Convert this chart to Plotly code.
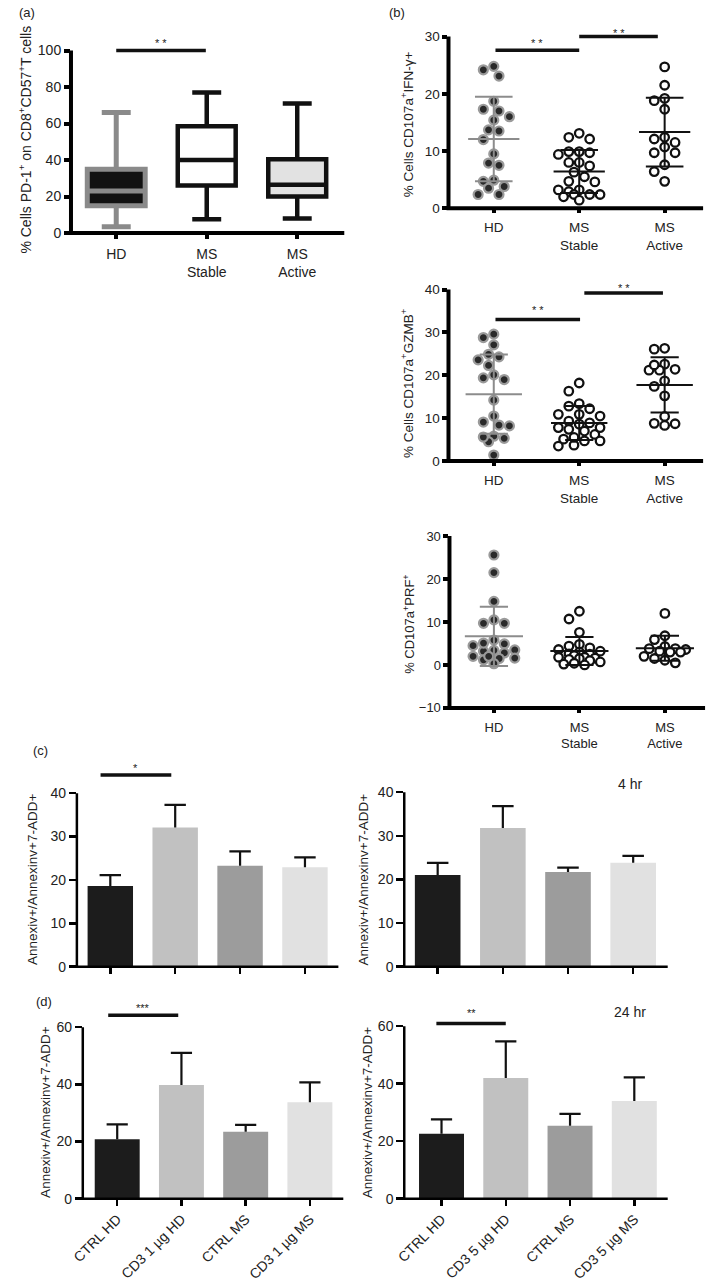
import numpy as np
import plotly.graph_objects as go

# ---------------- data ----------------
groups3 = ["HD", "MS<br>Stable", "MS<br>Active"]
groups4_1ug = ["CTRL HD", "CD3 1 µg HD", "CTRL MS", "CD3 1 µg MS"]
groups4_5ug = ["CTRL HD", "CD3 5 µg HD", "CTRL MS", "CD3 5 µg MS"]

# (a) PD-1 on CD8+CD57+ T cells: box statistics (min, Q1, median, Q3, max)
pd1_min = [3.5, 7.5, 8.0]
pd1_q1 = [15.0, 26.0, 20.0]
pd1_median = [23.0, 40.0, 26.5]
pd1_q3 = [35.0, 58.5, 40.5]
pd1_max = [66.0, 77.0, 71.0]

# (b) CD107a+IFN-g+
ifng_hd = [24.2, 24.8, 23.1, 18.7, 17.3, 17.0, 16.0, 15.4, 13.7, 13.5,
           12.0, 9.5, 7.5, 7.9, 4.9, 4.7, 3.5, 3.8, 2.4, 2.4]
ifng_stable = [13.1, 12.1, 12.4, 9.9, 9.7, 9.4, 9.9, 8.0, 7.4, 8.0, 6.3,
               5.5, 4.7, 4.6, 3.2, 2.9, 3.2, 2.4, 2.4, 2.4, 2.0, 1.4]
ifng_active = [24.7, 21.5, 19.2, 18.8, 17.3, 12.1, 12.4, 10.7, 11.5, 9.7,
               9.7, 7.6, 6.4, 4.7]

# (b) CD107a+GZMB+
gzmb_hd = [29.6, 28.8, 27.1, 24.9, 23.6, 24.3, 22.3, 20.1, 19.0, 19.4,
           14.2, 10.5, 9.1, 8.2, 8.4, 5.8, 5.3, 4.5, 5.6, 1.4]
gzmb_stable = [18.2, 16.3, 12.8, 12.2, 13.4, 10.9, 10.9, 10.5, 8.9, 9.3, 8.6,
               7.8, 7.0, 6.2, 7.4, 7.8, 5.1, 4.7, 3.5, 3.7, 4.7, 5.5]
gzmb_active = [26.1, 26.3, 22.6, 21.4, 21.2, 21.2, 22.4, 18.7, 17.4, 15.2,
               10.4, 8.8, 8.3, 8.7]

# (b) CD107a+PRF+
prf_hd = [25.6, 21.5, 14.8, 9.7, 9.7, 10.5, 5.8, 4.9, 3.5, 3.2,
          2.8, 3.4, 4.5, 5.1, 2.0, 1.5, 0.3, 1.2, 1.6, 2.0]
prf_stable = [12.5, 10.7, 7.6, 4.8, 4.4, 4.0, 3.6, 3.2, 3.0, 2.6, 2.5,
              2.2, 1.8, 1.8, 1.6, 1.5, 1.3, 1.0, 0.7, 0.4, 0.2, 0.0]
prf_active = [12.0, 6.8, 5.9, 4.3, 3.8, 3.8, 3.6, 3.2, 3.0, 3.0,
              2.0, 1.5, 1.1, 0.5]

# (c) 4 hr apoptosis (mean, upper error)
c1_mean = [18.6, 32.1, 23.3, 22.9]
c1_err = [2.5, 5.2, 3.3, 2.3]
c2_mean = [21.0, 31.8, 21.7, 23.8]
c2_err = [2.8, 5.0, 1.0, 1.6]

# (d) 24 hr apoptosis
d1_mean = [20.8, 39.8, 23.4, 33.7]
d1_err = [5.2, 11.2, 2.4, 7.0]
d2_mean = [22.6, 42.0, 25.4, 34.0]
d2_err = [5.0, 12.7, 4.1, 8.2]

# significance brackets: (from, to, bar height, star height, label)
sig_a = [(0.0, 0.99, 100.0, 105.4, "* *")]
sig_b1 = [(0.02, 1.0, 27.6, 29.3, "* *"), (1.0, 1.92, 30.0, 30.9, "* *")]
sig_b2 = [(0.02, 1.01, 33.0, 35.8, "* *"), (1.06, 1.98, 39.2, 40.9, "* *")]
sig_c1 = [(-0.15, 0.94, 44.2, 46.2, "*")]
sig_d1 = [(-0.14, 0.95, 64.2, 67.3, "***")]
sig_d2 = [(-0.08, 1.0, 60.9, 65.2, "**")]

# ---------------- layout / style ----------------
W, H = 709, 1288
FONT = "Liberation Sans, Arial, Helvetica, sans-serif"
TXT = "#222222"
BAR_COLORS = ["#1c1c1c", "#c1c1c1", "#9c9c9c", "#e1e1e1"]

P = {
    1: dict(xl=60, xr=338, xrng=(-0.5, 2.52), ybpx=232, ppu=1.84, yrng=(0, 110), ytop=100,
            yt=[0, 20, 40, 60, 80, 100], lw=4, tw=4, tl=5, fs=14),
    2: dict(xl=444, xr=703, xrng=(-0.53, 2.45), ybpx=207, ppu=5.77, yrng=(0, 32.5), ytop=30,
            yt=[0, 10, 20, 30], lw=4, tw=4, tl=4, fs=13.5),
    3: dict(xl=444, xr=703, xrng=(-0.53, 2.45), ybpx=462, ppu=4.325, yrng=(0, 42.5), ytop=40,
            yt=[0, 10, 20, 30, 40], lw=4, tw=4, tl=4, fs=13.5),
    4: dict(xl=445, xr=705, xrng=(-0.52, 2.47), ybpx=711, ppu=4.333, yrng=(-10, 31), ytop=30,
            yt=[-10, 0, 10, 20, 30], lw=4, tw=4, tl=4, fs=13),
    5: dict(xl=66, xr=332, xrng=(-0.515, 3.515), ybpx=972, ppu=4.375, yrng=(0, 47.5), ytop=40,
            yt=[0, 10, 20, 30, 40], lw=2.5, tw=2.5, tl=6, fs=14),
    6: dict(xl=399, xr=667, xrng=(-0.513, 3.53), ybpx=972, ppu=4.4, yrng=(0, 47.5), ytop=40,
            yt=[0, 10, 20, 30, 40], lw=2.5, tw=2.5, tl=6, fs=14),
    7: dict(xl=72, xr=337, xrng=(-0.536, 3.52), ybpx=1206, ppu=2.883, yrng=(0, 69), ytop=60,
            yt=[0, 20, 40, 60], lw=2.5, tw=2.5, tl=6, fs=14),
    8: dict(xl=399, xr=667, xrng=(-0.58, 3.52), ybpx=1206, ppu=2.9, yrng=(0, 69), ytop=60,
            yt=[0, 20, 40, 60], lw=2.5, tw=2.5, tl=6, fs=14),
}


def ax_names(n):
    s = "" if n == 1 else str(n)
    return "x" + s, "y" + s


fig = go.Figure()
layout = {}
shapes = []
annotations = []

for n, p in P.items():
    top_px = p["ybpx"] - (p["yrng"][1] - p["yrng"][0]) * p["ppu"]
    xa, ya = ax_names(n)
    xkey = "xaxis" + ("" if n == 1 else str(n))
    ykey = "yaxis" + ("" if n == 1 else str(n))
    layout[xkey] = dict(domain=[p["xl"] / W, p["xr"] / W], anchor=ya, range=list(p["xrng"]),
                        showgrid=False, zeroline=False, showline=False, ticks="outside",
                        ticklen=p["tl"], tickwidth=p["tw"], tickcolor="black",
                        tickfont=dict(family=FONT, size=p["fs"], color=TXT), fixedrange=True)
    layout[ykey] = dict(domain=[1 - p["ybpx"] / H, 1 - top_px / H], anchor=xa, range=list(p["yrng"]),
                        showgrid=False, zeroline=False, showline=False, ticks="outside",
                        tickvals=p["yt"], ticklen=p["tl"] + 1, tickwidth=p["tw"], tickcolor="black",
                        tickfont=dict(family=FONT, size=p["fs"], color=TXT), fixedrange=True)
    width_px = p["xr"] - p["xl"]
    shapes.append(dict(type="line", xref=xa + " domain", yref=ya + " domain",
                       x0=-p["lw"] / 2 / width_px, x1=1, y0=0, y1=0,
                       line=dict(color="black", width=p["lw"])))
    shapes.append(dict(type="line", xref=xa + " domain", yref=ya, x0=0, x1=0,
                       y0=p["yrng"][0], y1=p["ytop"], line=dict(color="black", width=p["lw"])))

for n in (1, 2, 3, 4):
    key = "xaxis" + ("" if n == 1 else str(n))
    layout[key].update(tickvals=[0, 1, 2], ticktext=groups3, ticklabelstandoff=3)
for n in (5, 6):
    key = "xaxis" + str(n)
    layout[key].update(tickvals=[0, 1, 2, 3], showticklabels=False)
layout["xaxis7"].update(tickvals=[0, 1, 2, 3], ticktext=groups4_1ug, tickangle=-45)
layout["xaxis8"].update(tickvals=[0, 1, 2, 3], ticktext=groups4_5ug, tickangle=-45)

# ---------------- (a) box plot ----------------
box_styles = [dict(line="#8a8a8a", fill="#111111", lw=5),
              dict(line="#111111", fill="#ffffff", lw=4.5),
              dict(line="#111111", fill="#e2e2e2", lw=4.5)]
for i in range(3):
    st = box_styles[i]
    fig.add_trace(go.Box(x=[i], q1=[pd1_q1[i]], median=[pd1_median[i]], q3=[pd1_q3[i]],
                         lowerfence=[pd1_min[i]], upperfence=[pd1_max[i]],
                         width=0.64, whiskerwidth=0.5, fillcolor=st["fill"],
                         line=dict(color=st["line"], width=st["lw"]),
                         boxpoints=False, showlegend=False, xaxis="x", yaxis="y", hoverinfo="skip"))


# ---------------- (b) scatter dot plots ----------------
def swarm_offsets(vals, xppu, yppu, d, maxw):
    vals = np.asarray(vals, float)
    order = np.argsort(-vals, kind="stable")
    nstep = int(maxw // (d / 2))
    steps = sorted({k * d / 2 for k in range(-nstep, nstep + 1)}, key=lambda v: (abs(v), v))
    placed = []
    offs = np.zeros(len(vals))
    for idx in order:
        ypx = vals[idx] * yppu
        best, best_dist = 0.0, -1.0
        for o in steps:
            md = min([np.hypot(o - px, ypx - py) for px, py in placed] or [1e9])
            if md >= d * 0.97:
                best = o
                break
            if md > best_dist + 0.5:
                best, best_dist = o, md
        placed.append((best, ypx))
        offs[idx] = best / xppu
    return offs


b_sets = {2: (ifng_hd, ifng_stable, ifng_active, 0.30, 0.22),
          3: (gzmb_hd, gzmb_stable, gzmb_active, 0.33, 0.165),
          4: (prf_hd, prf_stable, prf_active, 0.34, 0.165)}
b_maxw = {2: (16, 24, 16), 3: (16, 25, 19), 4: (24, 25, 22)}
for n, (g0, g1, g2, hw, cw) in b_sets.items():
    p = P[n]
    xa, ya = ax_names(n)
    xppu = (p["xr"] - p["xl"]) / (p["xrng"][1] - p["xrng"][0])
    for i, vals in enumerate((g0, g1, g2)):
        offs = swarm_offsets(vals, xppu, p["ppu"], 10.6, b_maxw[n][i])
        if i == 0:
            mk = dict(size=9, color="#2a2a2a", line=dict(color="#9a9a9a", width=2.2))
        else:
            mk = dict(size=8.5, color="white", line=dict(color="#111111", width=2.3))
        fig.add_trace(go.Scatter(x=i + offs, y=vals, mode="markers", marker=mk,
                                 showlegend=False, xaxis=xa, yaxis=ya, hoverinfo="skip"))
    for i, vals in enumerate((g0, g1, g2)):
        m = float(np.mean(vals))
        s = float(np.std(vals, ddof=1))
        xs = [i - hw, i + hw, None, i, i, None, i - cw, i + cw, None, i - cw, i + cw]
        ys = [m, m, None, m - s, m + s, None, m + s, m + s, None, m - s, m - s]
        col = "#8c8c8c" if i == 0 else "#111111"
        fig.add_trace(go.Scatter(x=xs, y=ys, mode="lines", line=dict(color=col, width=2),
                                 showlegend=False, xaxis=xa, yaxis=ya, hoverinfo="skip"))

# ---------------- (c), (d) bar charts ----------------
bar_sets = {5: (c1_mean, c1_err), 6: (c2_mean, c2_err), 7: (d1_mean, d1_err), 8: (d2_mean, d2_err)}
for n, (means, errs) in bar_sets.items():
    xa, ya = ax_names(n)
    xs_cat = list(range(len(means)))
    fig.add_trace(go.Bar(x=xs_cat, y=means, width=0.7, marker=dict(color=BAR_COLORS, line=dict(width=0)),
                         showlegend=False, xaxis=xa, yaxis=ya, hoverinfo="skip"))
    ex, ey = [], []
    capw = 0.165
    for i, (m, e) in enumerate(zip(means, errs)):
        ex += [i, i, None, i - capw, i + capw, None]
        ey += [m, m + e, None, m + e, m + e, None]
    fig.add_trace(go.Scatter(x=ex, y=ey, mode="lines", line=dict(color="#111111", width=2.2),
                             showlegend=False, xaxis=xa, yaxis=ya, hoverinfo="skip"))

# ---------------- significance brackets ----------------
for n, sigs in ((1, sig_a), (2, sig_b1), (3, sig_b2), (5, sig_c1), (7, sig_d1), (8, sig_d2)):
    xa, ya = ax_names(n)
    for x0, x1, yb, ys, lab in sigs:
        shapes.append(dict(type="line", xref=xa, yref=ya, x0=x0, x1=x1, y0=yb, y1=yb,
                           line=dict(color="#111111", width=3.5)))
        annotations.append(dict(xref=xa, yref=ya, x=(x0 + x1) / 2, y=ys, text=lab, showarrow=False,
                                xanchor="center", yanchor="middle", yshift=-2,
                                font=dict(family=FONT, size=11, color=TXT)))


def paper_text(px, py, text, size, angle=0):
    annotations.append(dict(xref="paper", yref="paper", x=px / W, y=1 - py / H, text=text,
                            showarrow=False, textangle=angle, xanchor="center", yanchor="middle",
                            font=dict(family=FONT, size=size, color=TXT)))


paper_text(13, 138, "% Cells PD-1<sup>+</sup> on CD8<sup>+</sup>CD57<sup>+</sup>T cells", 14, -90)
paper_text(402, 122, "% Cells CD107a<sup>+</sup>IFN-γ+", 13.5, -90)
paper_text(402, 383, "% Cells CD107a<sup>+</sup>GZMB<sup>+</sup>", 13.5, -90)
paper_text(403, 626, "% CD107a<sup>+</sup>PRF<sup>+</sup>", 13, -90)
paper_text(21, 884, "Annexiv+/Annexinv+7-ADD+", 13.5, -90)
paper_text(357, 884, "Annexiv+/Annexinv+7-ADD+", 13.5, -90)
paper_text(34, 1118, "Annexiv+/Annexinv+7-ADD+", 13.5, -90)
paper_text(362, 1119, "Annexiv+/Annexinv+7-ADD+", 13.5, -90)

paper_text(15, 10, "(a)", 13)
paper_text(392, 10, "(b)", 13)
paper_text(29, 754, "(c)", 13)
paper_text(33, 1007, "(d)", 13)
paper_text(629, 788, "4 hr", 14)
paper_text(629, 1018, "24 hr", 14)

fig.update_layout(width=W, height=H, margin=dict(l=0, r=0, t=0, b=0),
                  paper_bgcolor="white", plot_bgcolor="white", boxmode="overlay",
                  barmode="overlay", showlegend=False, shapes=shapes, annotations=annotations,
                  font=dict(family=FONT, color=TXT), **layout)

fig.write_html("out.html", config={"displayModeBar": False, "staticPlot": True},
               post_script="document.body.style.margin='0';document.body.style.padding='0';"
                           "document.body.style.overflow='hidden';")
